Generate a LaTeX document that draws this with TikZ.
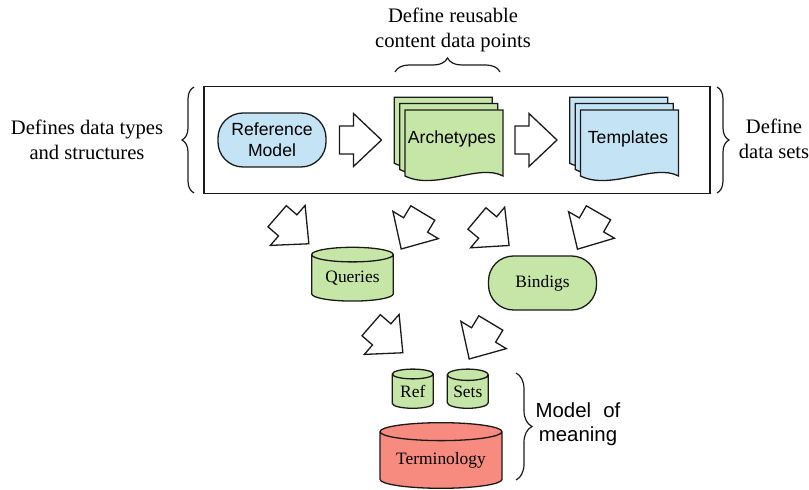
\documentclass[tikz,border=0pt]{standalone}
\usepackage{fontspec}
\setmainfont{Liberation Serif}
\setsansfont{Liberation Sans}
\usetikzlibrary{shapes.geometric,decorations.pathreplacing}

\definecolor{leaf}{HTML}{C6E6A8}
\definecolor{sky}{HTML}{C4E3F5}
\definecolor{coral}{HTML}{F88B7F}
\definecolor{ink}{HTML}{1A1A1A}

\tikzset{
  outline/.style={draw=ink, line width=0.65pt},
  labeltext/.style={font=\fontsize{10.3}{12.5}\selectfont, align=center, inner sep=0pt},
  sanslabel/.style={font=\sffamily\fontsize{10.2}{12.2}\selectfont, align=center, inner sep=0pt},
  sanstext/.style={font=\sffamily\fontsize{8.8}{10.3}\selectfont, align=center, inner sep=0pt},
  pill/.style={outline, rectangle, rounded corners=12.5pt, font=\fontsize{8.7}{10}\selectfont,
    align=center, inner sep=0pt, minimum width=54pt, minimum height=27pt},
  drum/.style={outline, cylinder, shape border rotate=90, font=\fontsize{8.7}{10}\selectfont,
    inner sep=0pt, anchor=shape center},
  curly/.style={decorate, decoration={brace, amplitude=#1}, draw=ink, line width=0.6pt},
  pagefill/.style={outline, fill=#1, line join=miter},
  blockarrow/.pic={
    \draw[outline, fill=white, line join=miter]
      (-21,-14) -- (-7,-14) -- (-7,-26.5) -- (21,0) -- (-7,26.5) -- (-7,14) -- (-21,14) -- cycle;
  },
  docstack/.pic={
    \foreach \dx/\dy in {-10.7/-12.7,-5.3/-6.5,0/0}
      \draw[pagefill=#1] (\dx,\dy) -- ++(98,0) -- ++(0,66)
        .. controls +(-24,-13) and +(30,15) .. ++(-98,0) -- cycle;
  }
}

\begin{document}
\begin{tikzpicture}[x=0.5pt, y=-0.5pt]
\useasboundingbox (0,0) rectangle (809,490);

% frame around the modelling layer
\node[outline, rectangle, minimum width=253pt, minimum height=53.5pt, inner sep=0pt]
  (frame) at (457,140) {};

% modelling layer
\node[pill, fill=sky, font=\sffamily\fontsize{8.8}{10.3}\selectfont] (rm) at (272,140)
  {Reference\\Model};
\pic (arrow-rm) at (360.5,140) {blockarrow};
\pic (arch-pages) at (405,110) {docstack=leaf};
\node[sanstext] (arch) at (452,138.5) {Archetypes};
\pic (arrow-arch) at (536,140) {blockarrow};
\pic (tpl-pages) at (580.5,110) {docstack=sky};
\node[sanstext] (tpl) at (628,138.5) {Templates};

% braces and their captions
\draw[curly=6pt] (194,193) -- (194,87) coordinate (lb);
\node[labeltext] (ltxt) at (87,140) {Defines data types\\and structures};
\draw[curly=6pt] (717,87) -- (717,193) coordinate (rb);
\node[labeltext] (rtxt) at (774,139) {Define\\data sets};
\draw[curly=7pt] (395,72) -- (500,72) coordinate (tb);
\node[labeltext] (ttxt) at (453,30) {Define reusable\\content data points};

% derived artefacts
\pic[rotate=-41] (arrow-q1) at (293,230) {blockarrow};
\pic[rotate=-121] (arrow-q2) at (412,231) {blockarrow};
\pic[rotate=-40] (arrow-b1) at (493,232) {blockarrow};
\pic[rotate=-120] (arrow-b2) at (588,231) {blockarrow};

\node[drum, fill=leaf, minimum width=40.8pt, minimum height=26.9pt, aspect=0.27]
  (queries) at (352.5,274.2) {Queries};
\node[pill, fill=leaf] (bind) at (542.5,283) {Bindigs};

\pic[rotate=-41] (arrow-r1) at (387,339) {blockarrow};
\pic[rotate=-121] (arrow-r2) at (480,341) {blockarrow};

% model of meaning
\node[drum, fill=leaf, minimum width=20.5pt, minimum height=19.6pt, aspect=0.39]
  (ref) at (412.8,388.7) {Ref};
\node[drum, fill=leaf, minimum width=20.5pt, minimum height=19.6pt, aspect=0.39]
  (sets) at (467.8,388.7) {Sets};
\node[drum, fill=coral, minimum width=61pt, minimum height=32.8pt, aspect=0.2]
  (term) at (441,455.5) {Terminology};

\draw[curly=8pt] (516,373) -- (516,480) coordinate (mb);
\node[sanslabel] (mtxt) at (578,424) {Model\hspace{0.6em}of\\meaning};
\end{tikzpicture}
\end{document}
